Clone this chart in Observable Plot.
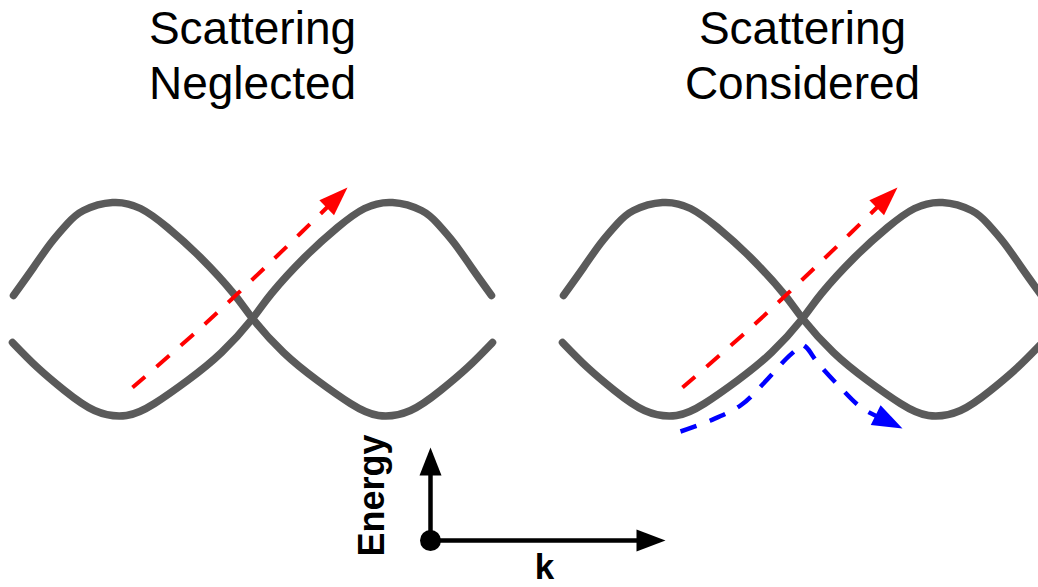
<!DOCTYPE html>
<html><head><meta charset="utf-8">
<script src="https://cdn.jsdelivr.net/npm/d3@7"></script>
<script src="https://cdn.jsdelivr.net/npm/@observablehq/plot@0.6"></script>
<style>html,body{margin:0;padding:0;background:#fff;overflow:hidden}</style>
</head><body><div id="chart"></div>
<script>
// Panels (k offset of each panel's band crossing) and titles
const panelOffsets = [0, 550];
const panelTitles = ["Scattering\nNeglected", "Scattering\nConsidered"];

// Band A (starts high on the left); crossing at k=0,E=0
const bandAk = [-239, -219, -202, -185, -169, -140, -112, -85, -52, -19, 0, 31, 65, 98, 126, 158, 188, 215, 240];
const bandAE = [23, 51, 75, 95, 108, 116, 110, 91, 61, 25, 0, -34, -62, -85, -97, -92, -72, -49, -24];
// Band B (starts low on the left)
const bandBk = [-240, -215, -188, -158, -126, -98, -65, -31, 0, 19, 52, 85, 112, 140, 169, 185, 202, 219, 239];
const bandBE = [-24, -49, -72, -92, -97, -85, -62, -34, 0, 25, 61, 91, 110, 116, 108, 95, 75, 51, 23];

// Red dashed arrow (both panels)
const redK = [-120, -47, 25, 95];
const redE = [-69, -5, 63, 131];

// Blue dashed arrow (right panel only)
const blueK = [-122, -92, -62, -39, -16, -5, -1, 4, 15, 36, 60, 100];
const blueE = [-113, -102, -87, -65, -40, -30, -26, -29, -44, -67, -90, -110];

// Axis arrows legend
const axisOriginK = 178, axisOriginE = -222;
const axisKTip = 413, axisETip = -129;
const axisLabels = ["Energy", "k"];

// ---- build tables ----
const bands = [];
panelOffsets.forEach((off, p) => {
  bandAk.forEach((k, i) => bands.push({k: k + off, E: bandAE[i], id: p + "A"}));
  bandBk.forEach((k, i) => bands.push({k: k + off, E: bandBE[i], id: p + "B"}));
});

function arrow(ks, Es, off, id, L, W, shorten) {
  const n = ks.length;
  const tip = [ks[n-1] + off, Es[n-1]];
  const prev = [ks[n-2] + off, Es[n-2]];
  let dx = tip[0] - prev[0], dy = tip[1] - prev[1];
  const len = Math.hypot(dx, dy); dx /= len; dy /= len;
  const bx = tip[0] - dx * L, by = tip[1] - dy * L;
  const px = -dy, py = dx;
  const shaft = ks.slice(0, n-1).map((k, i) => ({k: k + off, E: Es[i], id}));
  shaft.push({k: tip[0] - dx * L * shorten, E: tip[1] - dy * L * shorten, id});
  const head = [
    {k: tip[0], E: tip[1], id},
    {k: bx + px * W, E: by + py * W, id},
    {k: bx - px * W, E: by - py * W, id}
  ];
  return {shaft, head};
}

const redShaft = [], redHeads = [];
panelOffsets.forEach((off, p) => {
  const a = arrow(redK, redE, off, "r" + p, 29, 10.5, 0.6);
  redShaft.push(...a.shaft); redHeads.push(...a.head);
});
const blue = arrow(blueK, blueE, panelOffsets[1], "b", 30, 11, 0.6);

const axK = arrow([axisOriginK, axisKTip], [axisOriginE, axisOriginE], 0, "ak", 29, 11, 0.5);
const axE = arrow([axisOriginK, axisOriginK], [axisOriginE, axisETip], 0, "ae", 28, 11, 0.5);

const titles = panelOffsets.map((off, i) => ({k: off, E: 314, text: panelTitles[i]}));

const font = "'Liberation Sans', Arial, Helvetica, sans-serif";

const chart = Plot.plot({
  width: 1038, height: 587,
  margin: 0,
  x: {domain: [-252, 786], range: [0, 1038], axis: null},
  y: {domain: [318, -269], range: [0, 587], axis: null},
  style: {background: "white"},
  marks: [
    Plot.line(bands, {x: "k", y: "E", z: "id", stroke: "#5a5a5a", strokeWidth: 7.5, curve: "natural", clip: true}),
    Plot.line(redShaft, {x: "k", y: "E", z: "id", stroke: "#ff0000", strokeWidth: 4, strokeDasharray: "17,15", strokeLinecap: "butt", curve: "catmull-rom"}),
    Plot.line(redHeads, {x: "k", y: "E", z: "id", fill: "#ff0000", stroke: "none"}),
    Plot.line(blue.shaft, {x: "k", y: "E", z: "id", stroke: "#0000ff", strokeWidth: 4.5, strokeDasharray: "17,14", strokeLinecap: "butt", curve: "catmull-rom"}),
    Plot.line(blue.head, {x: "k", y: "E", z: "id", fill: "#0000ff", stroke: "none"}),
    Plot.line([...axK.shaft, ...axE.shaft], {x: "k", y: "E", z: "id", stroke: "black", strokeWidth: 4.5}),
    Plot.line([...axK.head, ...axE.head], {x: "k", y: "E", z: "id", fill: "black", stroke: "none"}),
    Plot.dot([{k: axisOriginK, E: axisOriginE}], {x: "k", y: "E", r: 10.5, fill: "black", stroke: "none"}),
    Plot.text(titles, {x: "k", y: "E", text: "text", fontSize: 46, lineHeight: 1.2, lineAnchor: "top", textAnchor: "middle", fill: "black", fontFamily: font}),
    Plot.text([axisLabels[0]], {x: () => 120, y: () => -177, text: d => d, rotate: -90, fontSize: 36, fontWeight: "bold", textAnchor: "middle", lineAnchor: "middle", fill: "black", fontFamily: font}),
    Plot.text([axisLabels[1]], {x: () => 292, y: () => -249, text: d => d, fontSize: 35, fontWeight: "bold", textAnchor: "middle", lineAnchor: "middle", fill: "black", fontFamily: font})
  ]
});
document.getElementById("chart").appendChild(chart);
</script>
</body></html>
